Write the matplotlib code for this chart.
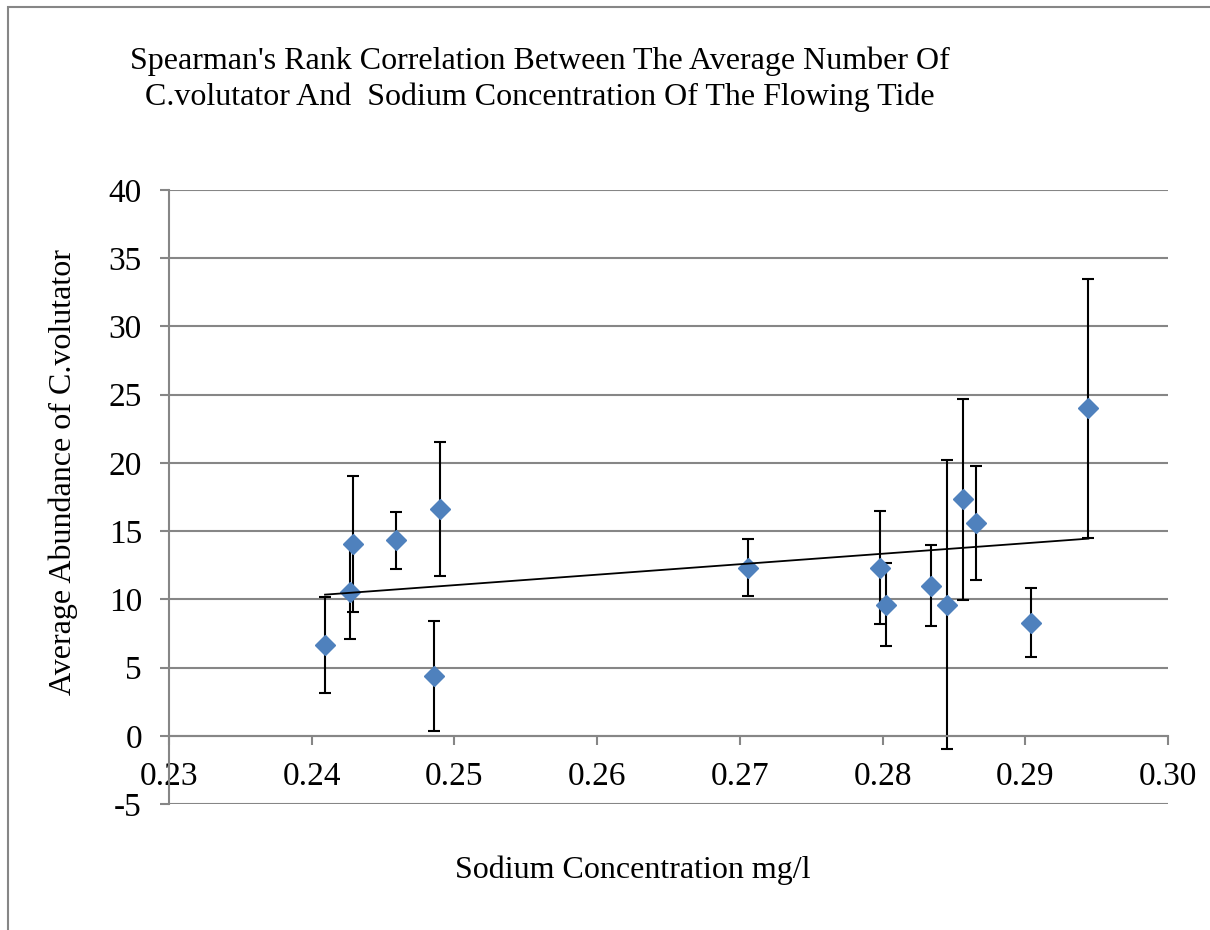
import numpy as np
from matplotlib import pyplot as plt
from matplotlib.patches import Rectangle

# sodium concentration (mg/l) and average abundance of C.volutator
sodium = [0.24093, 0.24268, 0.24291, 0.24589, 0.24899, 0.24857, 0.27059, 0.27982,
          0.28026, 0.28337, 0.28454, 0.28566, 0.28655, 0.29038, 0.29442]
abundance = [6.67, 10.57, 14.04, 14.33, 16.63, 4.35, 12.33, 12.33,
             9.62, 11.01, 9.62, 17.33, 15.6, 8.3, 24.0]
errors = [3.5, 3.47, 4.98, 2.09, 4.92, 4.03, 2.08, 4.15,
          3.04, 3.0, 10.58, 7.35, 4.15, 2.5, 9.5]

x_ticks = [0.23, 0.24, 0.25, 0.26, 0.27, 0.28, 0.29, 0.30]
x_tick_labels = ['0.23', '0.24', '0.25', '0.26', '0.27', '0.28', '0.29', '0.30']
y_ticks = [-5, 0, 5, 10, 15, 20, 25, 30, 35, 40]

plt.rcParams['font.family'] = ['Liberation Serif', 'DejaVu Serif']
grey = '#868686'

fig = plt.figure(figsize=(12.1, 9.3), dpi=100)
ax = fig.add_axes([0.1397, 0.1355, 0.8256, 0.6602])

ax.set_xlim(0.23, 0.30)
ax.set_ylim(-5, 40)
ax.set_yticks(y_ticks)
ax.set_yticklabels([str(v) for v in y_ticks])
ax.set_xticks(x_ticks)
ax.set_xticklabels(x_tick_labels)

for v in y_ticks:
    ax.axhline(v, color=grey, lw=1.5, zorder=0)

ax.spines['top'].set_visible(False)
ax.spines['right'].set_visible(False)
ax.spines['bottom'].set_position(('data', 0))
ax.spines['bottom'].set_color(grey)
ax.spines['bottom'].set_linewidth(1.5)
ax.spines['left'].set_color(grey)
ax.spines['left'].set_linewidth(1.5)
ax.tick_params(axis='both', colors=grey, labelcolor='black', labelsize=24,
               length=6.5, width=1.5, direction='out')
ax.tick_params(axis='x', pad=12)
ax.tick_params(axis='y', pad=13)

ax.errorbar(sodium, abundance, yerr=errors, fmt='none', ecolor='black',
            elinewidth=1.5, capsize=4.5, capthick=1.5, zorder=2)
ax.plot(sodium, abundance, 'D', color='#4F81BD', markersize=10, zorder=3)

# linear trendline
slope, intercept = np.polyfit(sodium, abundance, 1)
tx = np.array([min(sodium), max(sodium)])
ax.plot(tx, slope * tx + intercept, color='black', lw=1.3, zorder=4)

fig.text(0.446, 0.915, "Spearman's Rank Correlation Between The Average Number Of\n"
         "C.volutator And  Sodium Concentration Of The Flowing Tide",
         ha='center', va='center', fontsize=23, linespacing=1.3)
fig.text(0.052, 0.4925, 'Average Abundance of C.volutator', rotation=90,
         ha='center', va='center', fontsize=23)
fig.text(0.523, 0.064, 'Sodium Concentration mg/l', ha='center', va='center',
         fontsize=23)

fig.patches.append(Rectangle((0.007, -0.01), 1.2, 1.002, transform=fig.transFigure,
                             fill=False, edgecolor=grey, lw=1.5))

fig.savefig('out.png', dpi=100)
